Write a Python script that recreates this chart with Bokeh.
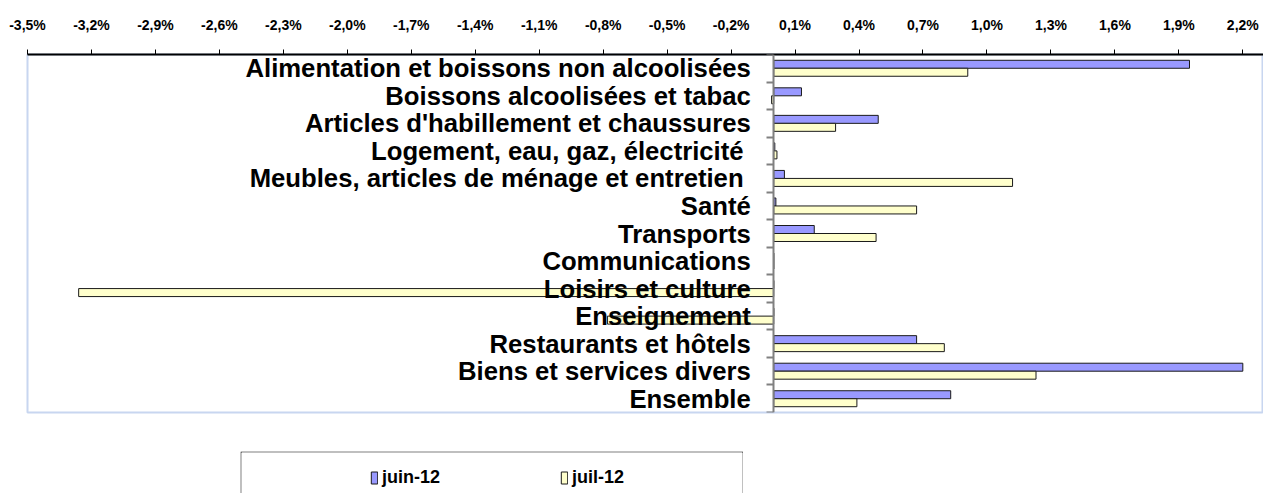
from bokeh.plotting import figure
from bokeh.models import (FactorRange, Range1d, LinearAxis, FixedTicker,
                          ColumnDataSource, Legend, LegendItem, Spacer)
from bokeh.layouts import column, row
from bokeh.transform import dodge
from bokeh.embed import file_html
from bokeh.resources import INLINE

# ---------------- data ----------------
categories = [
    "Alimentation et boissons non alcoolisées",
    "Boissons alcoolisées et tabac",
    "Articles d'habillement et chaussures",
    "Logement, eau, gaz, électricité ",
    "Meubles, articles de ménage et entretien ",
    "Santé",
    "Transports",
    "Communications",
    "Loisirs et culture",
    "Enseignement",
    "Restaurants et hôtels",
    "Biens et services divers",
    "Ensemble",
]
juin_12 = [1.95, 0.13, 0.49, 0.005, 0.05, 0.01, 0.19, 0.0, 0.0, 0.0, 0.67, 2.20, 0.83]
juil_12 = [0.91, -0.01, 0.29, 0.015, 1.12, 0.67, 0.48, 0.0, -3.26, -0.78, 0.80, 1.23, 0.39]
series_names = ["juin-12", "juil-12"]

tick_values = [-3.5, -3.2, -2.9, -2.6, -2.3, -2.0, -1.7, -1.4, -1.1, -0.8,
               -0.5, -0.2, 0.1, 0.4, 0.7, 1.0, 1.3, 1.6, 1.9, 2.2]
tick_labels = ["-3,5%", "-3,2%", "-2,9%", "-2,6%", "-2,3%", "-2,0%", "-1,7%",
               "-1,4%", "-1,1%", "-0,8%", "-0,5%", "-0,2%", "0,1%", "0,4%",
               "0,7%", "1,0%", "1,3%", "1,6%", "1,9%", "2,2%"]

JUIN_COLOR = "#9999FF"
JUIL_COLOR = "#FFFFCC"
EDGE = "#1a1a1a"
FONT = "Liberation Sans, Arial, sans-serif"

factors = categories[::-1]
src = ColumnDataSource(dict(cat=categories, juin=juin_12, juil=juil_12))

p = figure(width=1263, height=451,
           y_range=FactorRange(factors=factors, range_padding=0),
           x_range=Range1d(-3.5, 2.297),
           x_axis_location="above", y_axis_location=None,
           output_backend="svg", toolbar_location=None,
           min_border_left=27, min_border_right=0,
           min_border_top=54, min_border_bottom=39)

p.hbar(y=dodge("cat", 0.145, range=p.y_range), left=0, right="juin",
       height=0.29, source=src, fill_color=JUIN_COLOR, line_color=EDGE,
       line_width=1)
p.hbar(y=dodge("cat", -0.145, range=p.y_range), left=0, right="juil",
       height=0.29, source=src, fill_color=JUIL_COLOR, line_color=EDGE,
       line_width=1)

# category axis at x = 0
centers = [i + 0.5 for i in range(len(factors))]
bounds = [float(i) for i in range(len(factors) + 1)]
yax = LinearAxis(ticker=FixedTicker(ticks=centers, minor_ticks=bounds),
                 major_label_overrides={c: f for c, f in zip(centers, factors)},
                 fixed_location=0)
yax.axis_line_color = "#808080"
yax.axis_line_width = 2
yax.major_tick_out = 0
yax.major_tick_in = 0
yax.minor_tick_out = 7
yax.minor_tick_in = 0
yax.minor_tick_line_color = "#808080"
yax.minor_tick_line_width = 2
yax.major_label_standoff = 16
yax.major_label_text_font = FONT
yax.major_label_text_font_style = "bold"
yax.major_label_text_font_size = "25.7px"
yax.major_label_text_color = "black"
p.add_layout(yax, "left")

# top axis
xax = p.xaxis[0]
xax.ticker = FixedTicker(ticks=tick_values)
xax.major_label_overrides = dict(zip(tick_values, tick_labels))
xax.axis_line_color = "black"
xax.axis_line_width = 2
xax.major_tick_out = 5
xax.major_tick_in = 0
xax.major_tick_line_color = "black"
xax.minor_tick_out = 0
xax.minor_tick_in = 0
xax.major_label_standoff = 17
xax.major_label_text_font = FONT
xax.major_label_text_font_style = "bold"
xax.major_label_text_font_size = "14px"
xax.major_label_text_color = "black"

p.xgrid.visible = False
p.ygrid.visible = False
p.outline_line_color = "#C8D6F0"
p.outline_line_width = 2

# ---------------- legend ----------------
# legend proxies: same data, drawn outside the legend panel's visible range
lf = figure(width=503, height=42, x_range=Range1d(100, 101), y_range=Range1d(100, 101),
            toolbar_location=None, output_backend="svg",
            min_border_left=1, min_border_right=1, min_border_top=1, min_border_bottom=0,
            x_axis_location=None, y_axis_location=None)
lf.xgrid.visible = False
lf.ygrid.visible = False
lf.outline_line_color = None
lf.border_fill_color = "black"
lf.background_fill_color = "white"
r1 = lf.quad(left=0, right="juin", top=0, bottom=0, source=src,
             fill_color=JUIN_COLOR, line_color=EDGE)
r2 = lf.quad(left=0, right="juil", top=0, bottom=0, source=src,
             fill_color=JUIL_COLOR, line_color=EDGE)
legend = Legend(items=[LegendItem(label=series_names[0], renderers=[r1]),
                       LegendItem(label=series_names[1], renderers=[r2])],
                orientation="horizontal", location=(129, 5),
                padding=0, margin=0, spacing=118,
                glyph_width=8, glyph_height=15, label_standoff=4, label_width=60,
                border_line_color=None, background_fill_alpha=0,
                label_text_font=FONT, label_text_font_style="bold",
                label_text_font_size="18px", label_text_color="black")
lf.add_layout(legend)

layout = column(p, row(Spacer(width=240, height=42), lf))

open("out.html", "w").write(file_html(layout, INLINE))
